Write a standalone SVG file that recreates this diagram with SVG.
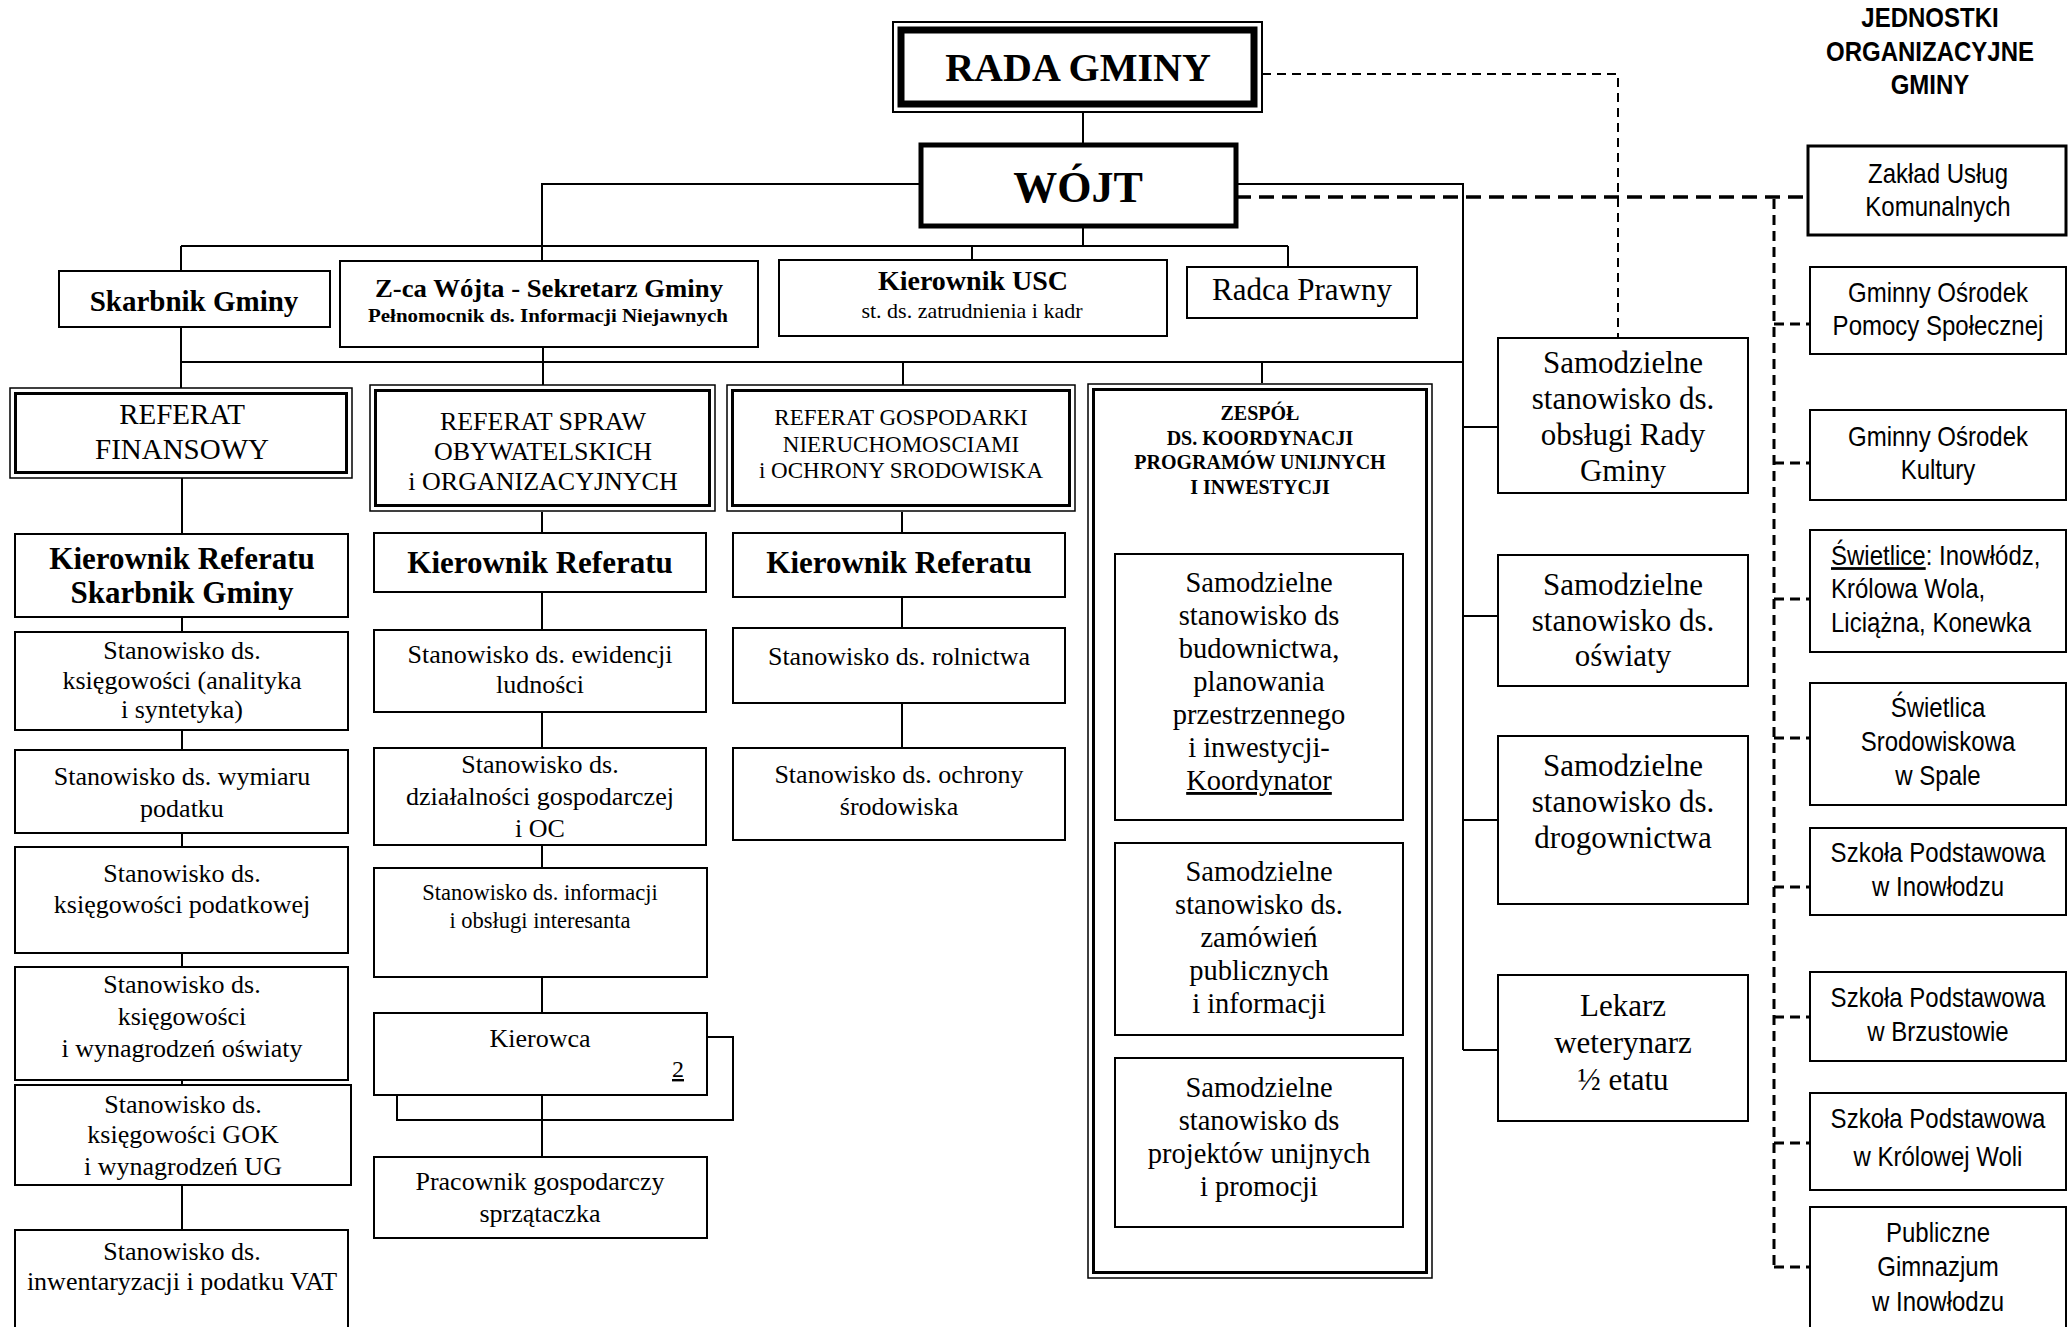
<svg xmlns="http://www.w3.org/2000/svg" width="2068" height="1327" viewBox="0 0 2068 1327">
<style>
.bg{fill:#fff}
.b{fill:#fff;stroke:#000;stroke-width:2}
.o{fill:#fff;stroke:#000;stroke-width:1.5}
.i{fill:none;stroke:#000;stroke-width:3}
.ln{fill:none;stroke:#000;stroke-width:2}
.d1{fill:none;stroke:#000;stroke-width:2;stroke-dasharray:9 6}
.d2{fill:none;stroke:#000;stroke-width:3.5;stroke-dasharray:15 8}
.d3{fill:none;stroke:#000;stroke-width:3;stroke-dasharray:10 6}
text{font-family:"Liberation Serif","Times New Roman",serif;text-anchor:middle;fill:#000}
.sb{font-weight:bold}
.s26{font-size:26px}
.s31{font-size:31px}
.s28{font-size:28.5px}
.a{font-family:"Liberation Sans",Arial,sans-serif;font-size:24px}
.al{text-anchor:start}
</style>
<rect class="bg" x="0" y="0" width="2068" height="1327"/>

<g id="connectors">
<path class="ln" d="M1083 112V145M1083 226V246M181 246H1288M181 246V271M972 246V260M1288 246V267"/>
<path class="ln" d="M921 184H542V261M1236 184H1463V1050"/>
<path class="ln" d="M181 327V388M181 362H1463M543 347V385M903 362V385M1262 362V383"/>
<path class="ln" d="M1463 427H1498M1463 616H1498M1463 820H1498M1463 1050H1498"/>
<path class="ln" d="M182 478V534M182 617V632M182 730V750M182 833V847M182 953V967M182 1080V1085M182 1185V1230"/>
<path class="ln" d="M542 512V533M542 592V630M542 712V748M542 845V868M542 977V1013M542 1095V1157"/>
<path class="ln" d="M707 1037H733V1120H397V1095"/>
<path class="ln" d="M902 512V533M902 597V628M902 703V748"/>
<path class="d1" d="M1262 74H1618V338"/>
<path class="d2" d="M1236 197H1808"/>
<path class="d3" d="M1774 199V1267"/>
<path class="d3" d="M1774 324H1810M1774 463H1810M1774 599H1810M1774 738H1810M1774 887H1810M1774 1017H1810M1774 1143H1810M1774 1267H1810"/>
</g>

<g id="rada">
<rect x="893" y="22" width="369" height="90" fill="#fff" stroke="#000" stroke-width="2"/>
<rect x="901" y="30" width="353" height="74" fill="none" stroke="#000" stroke-width="7"/>
<text x="1078" y="81" class="sb" font-size="40">RADA GMINY</text>
</g>

<g id="wojt">
<rect x="921" y="145" width="315" height="81" fill="#fff" stroke="#000" stroke-width="5"/>
<text x="1078" y="202" class="sb" font-size="44">WÓJT</text>
</g>

<g id="jednostki-header">
<text class="a sb" x="1930" y="0" font-size="23" transform="translate(0,27) scale(1,1.15)">JEDNOSTKI</text>
<text class="a sb" x="1930" y="0" font-size="23" transform="translate(0,61) scale(1,1.15)">ORGANIZACYJNE</text>
<text class="a sb" x="1930" y="0" font-size="23" transform="translate(0,94) scale(1,1.15)">GMINY</text>
</g>

<g id="skarbnik">
<rect class="b" x="59" y="271" width="271" height="56"/>
<text x="194" y="311" class="sb" font-size="29">Skarbnik Gminy</text>
</g>

<g id="zca">
<rect class="b" x="340" y="261" width="418" height="86"/>
<text x="549" y="297" class="sb" font-size="25" textLength="348" lengthAdjust="spacingAndGlyphs">Z-ca Wójta - Sekretarz Gminy</text>
<text x="548" y="322" class="sb" font-size="18" textLength="360" lengthAdjust="spacingAndGlyphs">Pełnomocnik ds. Informacji Niejawnych</text>
</g>

<g id="usc">
<rect class="b" x="779" y="260" width="388" height="76"/>
<text x="973" y="290" class="sb" font-size="28">Kierownik USC</text>
<text x="972" y="318" font-size="22">st. ds. zatrudnienia i kadr</text>
</g>

<g id="radca">
<rect class="b" x="1187" y="267" width="230" height="51"/>
<text x="1302" y="300" font-size="31">Radca Prawny</text>
</g>

<g id="ref-fin">
<rect class="o" x="10" y="388" width="342" height="90"/>
<rect class="i" x="15.5" y="393.5" width="331" height="79"/>
<text x="182" y="424" font-size="29">REFERAT</text>
<text x="182" y="459" font-size="29">FINANSOWY</text>
</g>

<g id="ref-spraw">
<rect class="o" x="370" y="385" width="345" height="126"/>
<rect class="i" x="375.5" y="390.5" width="334" height="115"/>
<text x="543" y="430" font-size="26">REFERAT SPRAW</text>
<text x="543" y="460" font-size="26">OBYWATELSKICH</text>
<text x="543" y="490" font-size="26">i ORGANIZACYJNYCH</text>
</g>

<g id="ref-gosp">
<rect class="o" x="727" y="385" width="348" height="126"/>
<rect class="i" x="732.5" y="390.5" width="337" height="115"/>
<text x="901" y="425" font-size="23">REFERAT GOSPODARKI</text>
<text x="901" y="452" font-size="23">NIERUCHOMOSCIAMI</text>
<text x="901" y="478" font-size="23">i OCHRONY SRODOWISKA</text>
</g>

<g id="zespol">
<rect class="o" x="1088" y="384" width="344" height="894"/>
<rect class="i" x="1093.5" y="389.5" width="333" height="883"/>
<text x="1260" y="420" class="sb" font-size="20">ZESPÓŁ</text>
<text x="1260" y="445" class="sb" font-size="20">DS. KOORDYNACJI</text>
<text x="1260" y="469" class="sb" font-size="20">PROGRAMÓW UNIJNYCH</text>
<text x="1260" y="494" class="sb" font-size="20">I INWESTYCJI</text>
</g>

<g id="zespol-budownictwo">
<rect class="b" x="1115" y="554" width="288" height="266"/>
<text class="s28" x="1259" y="592">Samodzielne</text>
<text class="s28" x="1259" y="625">stanowisko ds</text>
<text class="s28" x="1259" y="658">budownictwa,</text>
<text class="s28" x="1259" y="691">planowania</text>
<text class="s28" x="1259" y="724">przestrzennego</text>
<text class="s28" x="1259" y="757">i inwestycji-</text>
<text class="s28" x="1259" y="790" text-decoration="underline">Koordynator</text>
</g>

<g id="zespol-zamowienia">
<rect class="b" x="1115" y="843" width="288" height="192"/>
<text class="s28" x="1259" y="881">Samodzielne</text>
<text class="s28" x="1259" y="914">stanowisko ds.</text>
<text class="s28" x="1259" y="947">zamówień</text>
<text class="s28" x="1259" y="980">publicznych</text>
<text class="s28" x="1259" y="1013">i informacji</text>
</g>

<g id="zespol-projekty">
<rect class="b" x="1115" y="1058" width="288" height="169"/>
<text class="s28" x="1259" y="1097">Samodzielne</text>
<text class="s28" x="1259" y="1130">stanowisko ds</text>
<text class="s28" x="1259" y="1163">projektów unijnych</text>
<text class="s28" x="1259" y="1196">i promocji</text>
</g>

<g id="fin-kierownik">
<rect class="b" x="15" y="534" width="333" height="83"/>
<text x="182" y="569" class="sb s31">Kierownik Referatu</text>
<text x="182" y="603" class="sb s31">Skarbnik Gminy</text>
</g>
<g id="fin-analityka">
<rect class="b" x="15" y="632" width="333" height="98"/>
<text class="s26" x="182" y="659">Stanowisko ds.</text>
<text class="s26" x="182" y="689">księgowości (analityka</text>
<text class="s26" x="182" y="718">i syntetyka)</text>
</g>
<g id="fin-wymiar">
<rect class="b" x="15" y="750" width="333" height="83"/>
<text class="s26" x="182" y="785">Stanowisko ds. wymiaru</text>
<text class="s26" x="182" y="817">podatku</text>
</g>
<g id="fin-podatkowa">
<rect class="b" x="15" y="847" width="333" height="106"/>
<text class="s26" x="182" y="882">Stanowisko ds.</text>
<text class="s26" x="182" y="913">księgowości podatkowej</text>
</g>
<g id="fin-oswiata">
<rect class="b" x="15" y="967" width="333" height="113"/>
<text class="s26" x="182" y="993">Stanowisko ds.</text>
<text class="s26" x="182" y="1025">księgowości</text>
<text class="s26" x="182" y="1057">i wynagrodzeń oświaty</text>
</g>
<g id="fin-gok">
<rect class="b" x="15" y="1085" width="336" height="100"/>
<text class="s26" x="183" y="1113">Stanowisko ds.</text>
<text class="s26" x="183" y="1143">księgowości GOK</text>
<text class="s26" x="183" y="1175">i wynagrodzeń UG</text>
</g>
<g id="fin-vat">
<rect class="b" x="15" y="1230" width="333" height="120"/>
<text class="s26" x="182" y="1260">Stanowisko ds.</text>
<text class="s26" x="182" y="1290">inwentaryzacji i podatku VAT</text>
</g>

<g id="spraw-kierownik">
<rect class="b" x="374" y="533" width="332" height="59"/>
<text x="540" y="573" class="sb s31">Kierownik Referatu</text>
</g>
<g id="spraw-ewidencja">
<rect class="b" x="374" y="630" width="332" height="82"/>
<text class="s26" x="540" y="663">Stanowisko ds. ewidencji</text>
<text class="s26" x="540" y="693">ludności</text>
</g>
<g id="spraw-dzialalnosc">
<rect class="b" x="374" y="748" width="332" height="97"/>
<text class="s26" x="540" y="773">Stanowisko ds.</text>
<text class="s26" x="540" y="805">działalności gospodarczej</text>
<text class="s26" x="540" y="837">i OC</text>
</g>
<g id="spraw-informacja">
<rect class="b" x="374" y="868" width="333" height="109"/>
<text x="540" y="900" font-size="22.5">Stanowisko ds. informacji</text>
<text x="540" y="928" font-size="22.5">i obsługi interesanta</text>
</g>
<g id="spraw-kierowca">
<rect class="b" x="374" y="1013" width="333" height="82"/>
<text class="s26" x="540" y="1047">Kierowca</text>
<text x="678" y="1077" font-size="24" text-decoration="underline">2</text>
</g>
<g id="spraw-pracownik">
<rect class="b" x="374" y="1157" width="333" height="81"/>
<text class="s26" x="540" y="1190">Pracownik gospodarczy</text>
<text class="s26" x="540" y="1222">sprzątaczka</text>
</g>

<g id="gosp-kierownik">
<rect class="b" x="733" y="533" width="332" height="64"/>
<text x="899" y="573" class="sb s31">Kierownik Referatu</text>
</g>
<g id="gosp-rolnictwo">
<rect class="b" x="733" y="628" width="332" height="75"/>
<text class="s26" x="899" y="665">Stanowisko ds. rolnictwa</text>
</g>
<g id="gosp-ochrona">
<rect class="b" x="733" y="748" width="332" height="92"/>
<text class="s26" x="899" y="783">Stanowisko ds. ochrony</text>
<text class="s26" x="899" y="815">środowiska</text>
</g>

<g id="sam-rada">
<rect class="b" x="1498" y="338" width="250" height="155"/>
<text class="s31" x="1623" y="373">Samodzielne</text>
<text class="s31" x="1623" y="409">stanowisko ds.</text>
<text class="s31" x="1623" y="445">obsługi Rady</text>
<text class="s31" x="1623" y="481">Gminy</text>
</g>
<g id="sam-oswiata">
<rect class="b" x="1498" y="555" width="250" height="131"/>
<text class="s31" x="1623" y="595">Samodzielne</text>
<text class="s31" x="1623" y="631">stanowisko ds.</text>
<text class="s31" x="1623" y="666">oświaty</text>
</g>
<g id="sam-drogi">
<rect class="b" x="1498" y="736" width="250" height="168"/>
<text class="s31" x="1623" y="776">Samodzielne</text>
<text class="s31" x="1623" y="812">stanowisko ds.</text>
<text class="s31" x="1623" y="848">drogownictwa</text>
</g>
<g id="sam-lekarz">
<rect class="b" x="1498" y="975" width="250" height="146"/>
<text class="s31" x="1623" y="1016">Lekarz</text>
<text class="s31" x="1623" y="1053">weterynarz</text>
<text class="s31" x="1623" y="1090">½ etatu</text>
</g>

<g id="jo-zuk">
<rect x="1808" y="146" width="258" height="89" fill="#fff" stroke="#000" stroke-width="3"/>
<text class="a" x="1938" y="0" transform="translate(0,183) scale(1,1.15)">Zakład Usług</text>
<text class="a" x="1938" y="0" transform="translate(0,216) scale(1,1.15)">Komunalnych</text>
</g>
<g id="jo-gops">
<rect class="b" x="1810" y="267" width="256" height="87"/>
<text class="a" x="1938" y="0" transform="translate(0,302) scale(1,1.15)">Gminny Ośrodek</text>
<text class="a" x="1938" y="0" transform="translate(0,335) scale(1,1.15)">Pomocy Społecznej</text>
</g>
<g id="jo-gok">
<rect class="b" x="1810" y="410" width="256" height="90"/>
<text class="a" x="1938" y="0" transform="translate(0,446) scale(1,1.15)">Gminny Ośrodek</text>
<text class="a" x="1938" y="0" transform="translate(0,479) scale(1,1.15)">Kultury</text>
</g>
<g id="jo-swietlice">
<rect class="b" x="1810" y="530" width="256" height="122"/>
<text class="a al" x="1831" y="0" transform="translate(0,565) scale(1,1.15)"><tspan text-decoration="underline">Świetlice</tspan>: Inowłódz,</text>
<text class="a al" x="1831" y="0" transform="translate(0,598) scale(1,1.15)">Królowa Wola,</text>
<text class="a al" x="1831" y="0" transform="translate(0,632) scale(1,1.15)">Liciążna, Konewka</text>
</g>
<g id="jo-swietlica-spala">
<rect class="b" x="1810" y="683" width="256" height="122"/>
<text class="a" x="1938" y="0" transform="translate(0,717) scale(1,1.15)">Świetlica</text>
<text class="a" x="1938" y="0" transform="translate(0,751) scale(1,1.15)">Srodowiskowa</text>
<text class="a" x="1938" y="0" transform="translate(0,785) scale(1,1.15)">w Spale</text>
</g>
<g id="jo-sp-inowlodz">
<rect class="b" x="1810" y="828" width="256" height="87"/>
<text class="a" x="1938" y="0" transform="translate(0,862) scale(1,1.15)">Szkoła Podstawowa</text>
<text class="a" x="1938" y="0" transform="translate(0,896) scale(1,1.15)">w Inowłodzu</text>
</g>
<g id="jo-sp-brzustow">
<rect class="b" x="1810" y="972" width="256" height="89"/>
<text class="a" x="1938" y="0" transform="translate(0,1007) scale(1,1.15)">Szkoła Podstawowa</text>
<text class="a" x="1938" y="0" transform="translate(0,1041) scale(1,1.15)">w Brzustowie</text>
</g>
<g id="jo-sp-krolowa">
<rect class="b" x="1810" y="1093" width="256" height="97"/>
<text class="a" x="1938" y="0" transform="translate(0,1128) scale(1,1.15)">Szkoła Podstawowa</text>
<text class="a" x="1938" y="0" transform="translate(0,1166) scale(1,1.15)">w Królowej Woli</text>
</g>
<g id="jo-gimnazjum">
<rect class="b" x="1810" y="1207" width="256" height="140"/>
<text class="a" x="1938" y="0" transform="translate(0,1242) scale(1,1.15)">Publiczne</text>
<text class="a" x="1938" y="0" transform="translate(0,1276) scale(1,1.15)">Gimnazjum</text>
<text class="a" x="1938" y="0" transform="translate(0,1311) scale(1,1.15)">w Inowłodzu</text>
</g>
</svg>
